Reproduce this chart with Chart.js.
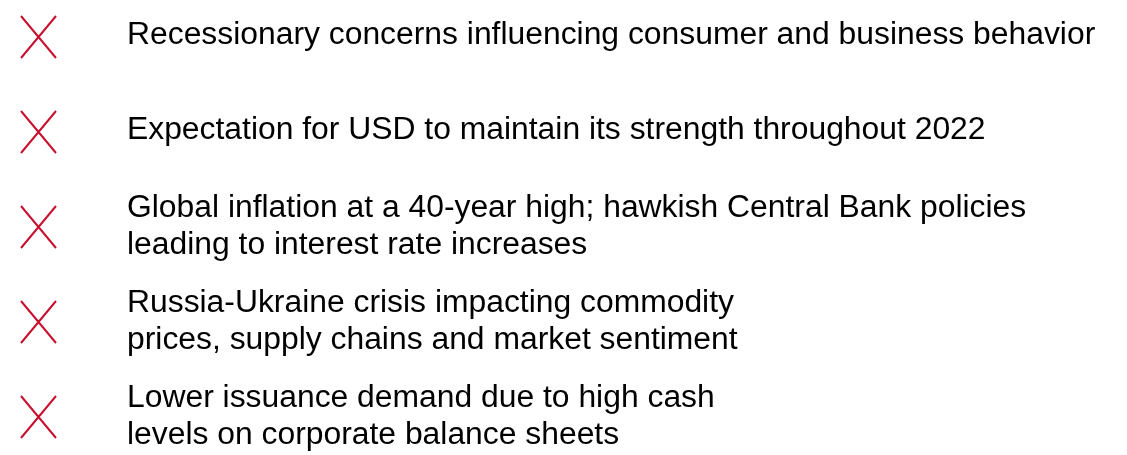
<!DOCTYPE html>
<html>
<head>
<meta charset="utf-8">
<script src="https://cdn.jsdelivr.net/npm/chart.js@4/dist/chart.umd.min.js"></script>
<style>
  html, body { margin: 0; padding: 0; background: #ffffff; }
  #wrap { width: 1127px; height: 455px; position: relative; }
</style>
</head>
<body>
<div id="wrap"><canvas id="c" width="1127" height="455"></canvas></div>
<script>
// ---- data ----
const items = [
  ["Recessionary concerns influencing consumer and business behavior"],
  ["Expectation for USD to maintain its strength throughout 2022"],
  ["Global inflation at a 40-year high; hawkish Central Bank policies", "leading to interest rate increases"],
  ["Russia-Ukraine crisis impacting commodity", "prices, supply chains and market sentiment"],
  ["Lower issuance demand due to high cash", "levels on corporate balance sheets"]
];
const rowIndex = [0, 1, 2, 3, 4];
const markerColumn = [38.5, 38.5, 38.5, 38.5, 38.5];

// ---- styles ----
const RED = '#C8102E';
const TEXT_COLOR = '#000000';
const FONT = '31.85px "Liberation Sans", Arial, sans-serif';
const TEXT_OFFSET_X = 88.5;
const LINE_HEIGHT = 37;
const FIRST_LINE_RAISE = 17;
const BASELINE_SHIFT = 7;

// X marker glyph (slightly taller than wide)
function makeCross() {
  const cv = document.createElement('canvas');
  cv.width = 37; cv.height = 44;
  const g = cv.getContext('2d');
  g.strokeStyle = RED;
  g.lineWidth = 2;
  g.lineCap = 'butt';
  g.beginPath();
  g.moveTo(1, 1); g.lineTo(36, 43);
  g.moveTo(36, 1); g.lineTo(1, 43);
  g.stroke();
  return cv;
}
const crossImg = makeCross();

const labelPlugin = {
  id: 'itemLabels',
  afterDatasetsDraw(chart) {
    const ctx = chart.ctx;
    const meta = chart.getDatasetMeta(0);
    ctx.save();
    ctx.font = FONT;
    ctx.fillStyle = TEXT_COLOR;
    ctx.textAlign = 'left';
    ctx.textBaseline = 'alphabetic';
    meta.data.forEach((pt, i) => {
      const lines = items[i];
      const n = lines.length;
      const firstBase = pt.y + BASELINE_SHIFT - (n - 1) * FIRST_LINE_RAISE;
      lines.forEach((ln, j) => {
        ctx.fillText(ln, pt.x + TEXT_OFFSET_X, firstBase + j * LINE_HEIGHT);
      });
    });
    ctx.restore();
  }
};

new Chart(document.getElementById('c'), {
  type: 'scatter',
  data: {
    datasets: [{
      data: rowIndex.map((r, i) => ({ x: markerColumn[i], y: r })),
      pointStyle: crossImg,
      pointRadius: 20,
      showLine: false,
      clip: false
    }]
  },
  options: {
    responsive: false,
    animation: false,
    events: [],
    layout: { padding: 0, autoPadding: false },
    plugins: { legend: { display: false }, tooltip: { enabled: false } },
    scales: {
      x: { type: 'linear', display: false, min: 0, max: 1127 },
      y: { type: 'linear', display: false, reverse: true, min: -0.3895, max: 4.4 }
    }
  },
  plugins: [labelPlugin]
});
</script>
</body>
</html>
